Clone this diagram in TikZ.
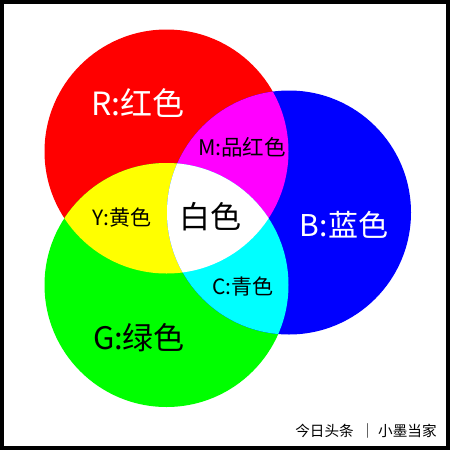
\documentclass[tikz,border=0pt]{standalone}
\usepackage{fontspec}
\newfontfamily\cjk{Noto Sans CJK SC}
\definecolor{pR}{RGB}{255,0,0}
\definecolor{pG}{RGB}{0,255,0}
\definecolor{pB}{RGB}{0,0,255}
\definecolor{pY}{RGB}{255,255,0}
\definecolor{pM}{RGB}{255,0,255}
\definecolor{pC}{RGB}{0,255,255}
\begin{document}
\begin{tikzpicture}[x=1pt,y=-1pt,
  lbl/.style={font=\cjk, inner sep=0pt, anchor=center}]
\useasboundingbox (0,0) rectangle (450,450);
\fill[white] (0,0) rectangle (450,450);
\def\R{122}
\coordinate (cr) at (166.5,151.5);
\coordinate (cg) at (166.5,285);
\coordinate (cb) at (289,212.5);
% base circles
\fill[pR] (cr) circle (\R);
\fill[pG] (cg) circle (\R);
\fill[pB] (cb) circle (\R);
% pairwise overlaps
\begin{scope}\clip (cr) circle (\R); \fill[pY] (cg) circle (\R); \end{scope}
\begin{scope}\clip (cr) circle (\R); \fill[pM] (cb) circle (\R); \end{scope}
\begin{scope}\clip (cg) circle (\R); \fill[pC] (cb) circle (\R); \end{scope}
% triple
\begin{scope}\clip (cr) circle (\R); \clip (cg) circle (\R); \fill[white] (cb) circle (\R); \end{scope}
% labels
\node[lbl, text=white, font=\cjk\fontsize{32}{32}\selectfont] (r) at (138,103) {R:红色};
\node[lbl, font=\cjk\fontsize{21.5}{21.5}\selectfont] (m) at (242,147) {M:品红色};
\node[lbl, font=\cjk\fontsize{21}{21}\selectfont] (y) at (122,218) {Y:黄色};
\node[lbl, font=\cjk\fontsize{31}{31}\selectfont] (w) at (210,217) {白色};
\node[lbl, text=white, font=\cjk\fontsize{30}{30}\selectfont] (b) at (344,225) {B:蓝色};
\node[lbl, font=\cjk\fontsize{21}{21}\selectfont] (c) at (243,287) {C:青色};
\node[lbl, font=\cjk\fontsize{31}{31}\selectfont] (g) at (139,338) {G:绿色};
\node[lbl, font=\cjk\fontsize{14.6}{14.6}\selectfont] (wm) at (366,431) {今日头条\ \ ｜\ 小墨当家};
% frame
\draw[black, line width=3.5pt] (1.75,1.75) rectangle (448,448);
\end{tikzpicture}
\end{document}
